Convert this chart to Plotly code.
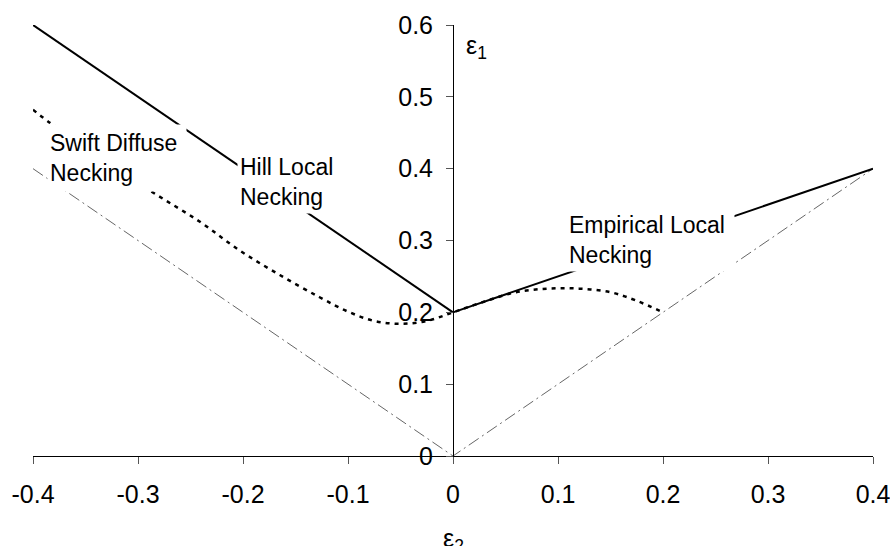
import plotly.graph_objects as go

# Forming limit curves: minor strain (eps2) vs major strain (eps1), n = 0.2
hill_e2 = [-0.4, 0.0]
hill_e1 = [0.6, 0.2]

empirical_e2 = [0.0, 0.4]
empirical_e1 = [0.2, 0.4]

swift_e2 = [-0.4, -0.384, -0.34, -0.287, -0.241, -0.203, -0.165, -0.127, -0.1,
            -0.075, -0.05, -0.025, 0.0, 0.03, 0.06, 0.09, 0.12, 0.15, 0.175, 0.2]
swift_e1 = [0.482, 0.464, 0.42, 0.368, 0.326, 0.286, 0.252, 0.221, 0.201,
            0.188, 0.184, 0.188, 0.2, 0.215, 0.228, 0.233, 0.233, 0.228, 0.216, 0.2]

# Reference strain paths eps1 = |eps2|
path_e2 = [-0.4, 0.0, 0.4]
path_e1 = [0.4, 0.0, 0.4]

x_ticks = [-0.4, -0.3, -0.2, -0.1, 0.0, 0.1, 0.2, 0.3, 0.4]
x_ticktext = ["-0.4", "-0.3", "-0.2", "-0.1", "0", "0.1", "0.2", "0.3", "0.4"]
y_ticks = [0.0, 0.1, 0.2, 0.3, 0.4, 0.5, 0.6]
y_ticktext = ["0", "0.1", "0.2", "0.3", "0.4", "0.5", "0.6"]

FONT = "Liberation Sans, Arial, sans-serif"

fig = go.Figure()
fig.add_trace(go.Scatter(x=path_e2, y=path_e1, mode="lines",
                         line=dict(color="#666666", width=1, dash="12px,4px,2px,4px"),
                         hoverinfo="skip"))
fig.add_trace(go.Scatter(x=swift_e2, y=swift_e1, mode="lines",
                         line=dict(color="black", width=2.5, dash="4px,5px", shape="spline"),
                         hoverinfo="skip"))
fig.add_trace(go.Scatter(x=hill_e2, y=hill_e1, mode="lines",
                         line=dict(color="black", width=2), hoverinfo="skip"))
fig.add_trace(go.Scatter(x=empirical_e2, y=empirical_e1, mode="lines",
                         line=dict(color="black", width=2), hoverinfo="skip"))

label_font = dict(family=FONT, size=23, color="black")
labels = [
    ("Swift Diffuse<br>Necking", -0.3867, 0.4624, 134, 62),
    ("Hill Local<br>Necking", -0.2057, 0.4262, 97, 58),
    ("Empirical Local<br>Necking", 0.1076, 0.3454, 163, 58),
]
for text, lx, ly, w, h in labels:
    fig.add_annotation(x=lx, y=ly, xref="x", yref="y", text=text, showarrow=False,
                       xanchor="left", yanchor="top", align="left", valign="middle",
                       width=w, height=h, borderpad=2, bgcolor="white",
                       font=label_font)

# Axis titles
fig.add_annotation(x=0.5, y=0.6, xref="paper", yref="y", text="ε<sub>1</sub>",
                   showarrow=False, xanchor="left", yanchor="top", xshift=11, yshift=-4,
                   font=dict(family=FONT, size=25, color="black"))
fig.add_annotation(x=0.5, y=0, xref="paper", yref="paper", text="ε<sub>2</sub>",
                   showarrow=False, xanchor="center", yanchor="top", yshift=-66,
                   font=dict(family=FONT, size=25, color="black"))

fig.update_layout(
    width=890, height=546,
    margin=dict(l=33, r=17, t=25, b=90, autoexpand=False),
    paper_bgcolor="white", plot_bgcolor="white",
    showlegend=False,
    font=dict(family=FONT, color="black"),
    xaxis=dict(range=[-0.4, 0.4], tickvals=x_ticks, ticktext=x_ticktext,
               ticks="outside", ticklen=7, tickcolor="#555555", tickwidth=1,
               showline=True, linecolor="black", linewidth=1,
               showgrid=False, zeroline=False, automargin=False,
               ticklabelstandoff=9, ticklabeloverflow="allow",
               tickfont=dict(family=FONT, size=25, color="black")),
    yaxis=dict(range=[0, 0.6], tickvals=y_ticks, ticktext=y_ticktext,
               ticks="outside", ticklen=7, tickcolor="#555555", tickwidth=1,
               showline=True, linecolor="black", linewidth=1,
               showgrid=False, zeroline=False, automargin=False,
               anchor="free", position=0.5,
               ticklabelstandoff=8, ticklabeloverflow="allow",
               tickfont=dict(family=FONT, size=25, color="black")),
)

fig.write_html("out.html")
